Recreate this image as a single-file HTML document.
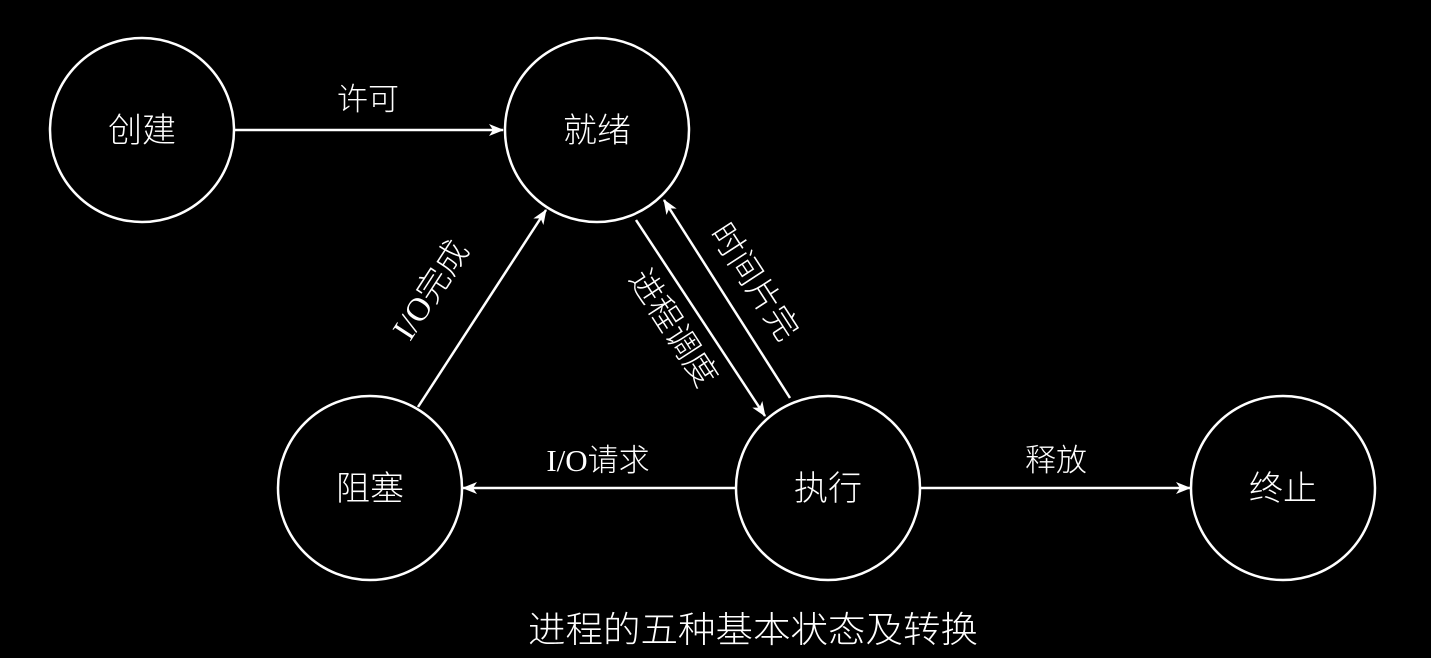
<!DOCTYPE html>
<html><head><meta charset="utf-8"><style>
html,body{margin:0;padding:0;background:#000;}
svg{display:block}
text{fill:#fff;font-family:"Liberation Serif","Noto Sans CJK SC",sans-serif;font-weight:300}
</style></head><body>
<svg width="1431" height="658" viewBox="0 0 1431 658" xmlns="http://www.w3.org/2000/svg">
<defs>
<marker id="a" markerWidth="16" markerHeight="12" refX="14" refY="6" orient="auto" markerUnits="userSpaceOnUse">
<path d="M0,0 L15,6 L0,12 L4,6 Z" fill="#fff"/>
</marker>
</defs>
<g fill="none" stroke="#fff" stroke-width="2.5">
<circle cx="142" cy="130" r="92"/>
<circle cx="597" cy="130" r="92"/>
<circle cx="370" cy="488" r="92"/>
<circle cx="828" cy="488" r="92"/>
<circle cx="1283" cy="488" r="92"/>
</g>
<g stroke="#fff" stroke-width="2.5" marker-end="url(#a)">
<line x1="234" y1="130" x2="503" y2="130"/>
<line x1="736" y1="488" x2="463" y2="488"/>
<line x1="920" y1="488" x2="1190" y2="488"/>
<line x1="418" y1="407" x2="546" y2="210"/>
<line x1="636" y1="220" x2="765" y2="416"/>
<line x1="790" y1="398" x2="664" y2="200"/>
</g>
<g font-size="34" text-anchor="middle">
<text x="142" y="142">创建</text>
<text x="597" y="142">就绪</text>
<text x="370" y="500">阻塞</text>
<text x="828" y="500">执行</text>
<text x="1283" y="500">终止</text>
</g>
<g font-size="31" text-anchor="middle">
<text x="368" y="110">许可</text>
<text x="598" y="471">I/O请求</text>
<text x="1056" y="471">释放</text>
</g>
<g font-size="33" text-anchor="middle">
<text transform="translate(440,296) rotate(-57)" x="0" y="0">I/O完成</text>
<text transform="translate(664,334) rotate(57)" x="0" y="0">进程调度</text>
<text transform="translate(745,288) rotate(57)" x="0" y="0">时间片完</text>
</g>
<text x="753" y="642" font-size="36" text-anchor="middle" textLength="450" lengthAdjust="spacingAndGlyphs">进程的五种基本状态及转换</text>
</svg>
</body></html>
